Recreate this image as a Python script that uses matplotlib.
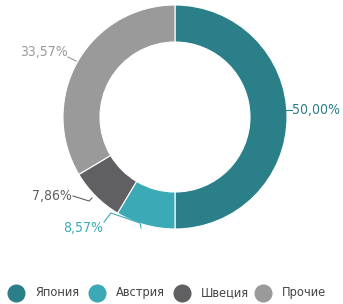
import matplotlib.pyplot as plt

countries = ["Япония", "Австрия", "Швеция", "Прочие"]
shares = [50.00, 8.57, 7.86, 33.57]
labels = ["50,00%", "8,57%", "7,86%", "33,57%"]
colors = ["#2a7f89", "#3ba9b6", "#606062", "#9a9a9a"]

plt.rcParams['font.family'] = ["DejaVu Sans"]
plt.rcParams['font.stretch'] = 'condensed'

W, H = 343, 304
fig = plt.figure(figsize=(W / 100, H / 100), dpi=100)
ax = fig.add_axes([0, 0, 1, 1])

cx, cy, r = 175, H - 117, 112
ax.pie(shares, colors=colors, startangle=90, counterclock=False,
       center=(cx, cy), radius=r, frame=True,
       wedgeprops=dict(width=37, edgecolor='white', linewidth=0.8))
ax.set_xlim(0, W)
ax.set_ylim(0, H)
ax.set_aspect('equal')
ax.axis('off')

fs = 10
# leader lines and labels
ax.plot([286, 292], [H - 110, H - 110], color=colors[0], lw=0.8)
ax.text(292, H - 108, labels[0], color=colors[0], fontsize=fs, va='center_baseline', ha='left')

ax.plot([104, 111, 140, 141], [H - 222, H - 213, H - 223, H - 228], color=colors[1], lw=0.8)
ax.text(103, H - 226, labels[1], color=colors[1], fontsize=fs, va='center_baseline', ha='right')

ax.plot([73, 89, 92], [H - 196, H - 201, H - 198], color=colors[2], lw=0.8)
ax.text(72, H - 194, labels[2], color=colors[2], fontsize=fs, va='center_baseline', ha='right')

ax.plot([68, 76], [H - 57, H - 61], color=colors[3], lw=0.8)
ax.text(68, H - 50, labels[3], color=colors[3], fontsize=fs, va='center_baseline', ha='right')

# legend
mx = [16, 97, 182, 263]
for x, c, name in zip(mx, colors, countries):
    ax.plot([x], [H - 293], marker='o', markersize=12, color=c, clip_on=False)
    ax.text(x + 19, H - 291, name, color="#444444", fontsize=9.2,
            va='center_baseline', ha='left')

fig.savefig("out.png", dpi=100)
